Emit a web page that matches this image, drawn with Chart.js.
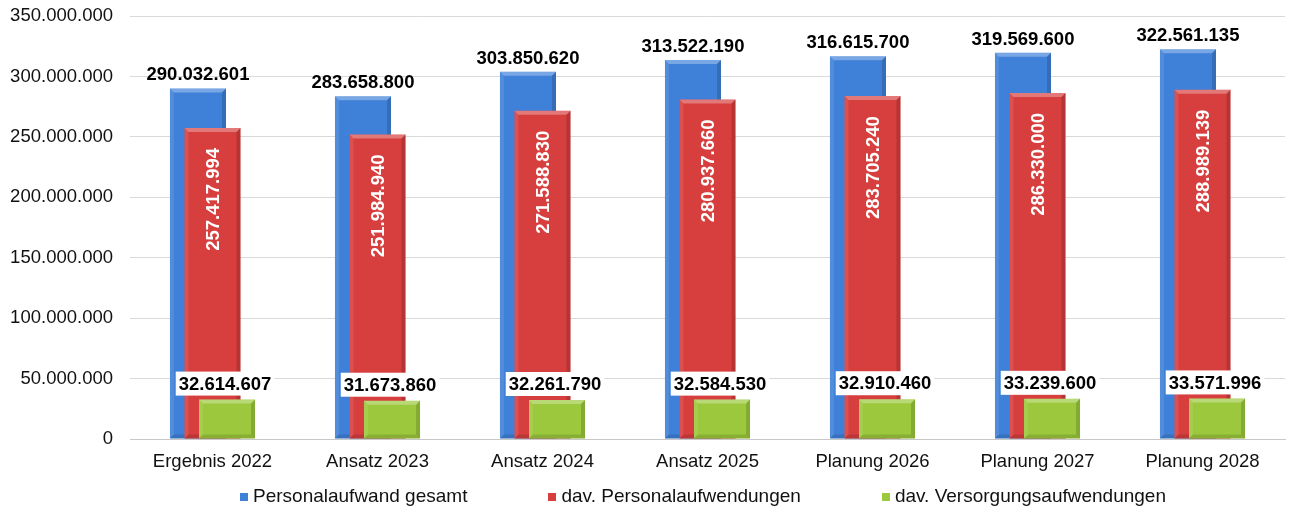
<!DOCTYPE html>
<html>
<head>
<meta charset="utf-8">
<script src="https://cdn.jsdelivr.net/npm/chart.js@4/dist/chart.umd.min.js"></script>
<style>
  body { margin: 0; background: #fff; }
  #wrap { position: relative; width: 1289px; height: 512px; }
  #legend { position: absolute; left: 240px; top: 485px; display: flex; font-family: "Liberation Sans", Arial, sans-serif; font-size: 19px; color: #111; }
  #legend .item { display: flex; align-items: center; margin-right: 81px; }
  #legend .box { width: 8px; height: 8px; margin-right: 5px; margin-top: 2px; }
</style>
</head>
<body>
<div id="wrap">
  <canvas id="chart"></canvas>
  <div id="legend"></div>
</div>
<script>
var categories = ['Ergebnis 2022', 'Ansatz 2023', 'Ansatz 2024', 'Ansatz 2025', 'Planung 2026', 'Planung 2027', 'Planung 2028'];
var seriesNames = ['Personalaufwand gesamt', 'dav. Personalaufwendungen', 'dav. Versorgungsaufwendungen'];
var gesamt = [290032601, 283658800, 303850620, 313522190, 316615700, 319569600, 322561135];
var personal = [257417994, 251984940, 271588830, 280937660, 283705240, 286330000, 288989139];
var versorgung = [32614607, 31673860, 32261790, 32584530, 32910460, 33239600, 33571996];
var yTicks = [0, 50000000, 100000000, 150000000, 200000000, 250000000, 300000000, 350000000];

var colors = ['#3F80D8', '#D73E3E', '#9BC83C'];
var FONT = '"Liberation Sans", Arial, sans-serif';

function fmt(v) {
    return String(v).replace(/\B(?=(\d{3})+(?!\d))/g, '.');
}

// legend
var legend = document.getElementById('legend');
seriesNames.forEach(function (name, i) {
    var item = document.createElement('div');
    item.className = 'item';
    item.innerHTML = '<span class="box" style="background:' + colors[i] + '"></span><span>' + name + '</span>';
    legend.appendChild(item);
});

function bevel(ctx, el) {
    var p = el.getProps(['x', 'y', 'base', 'width'], true);
    var l = p.x - p.width / 2, r = p.x + p.width / 2, t = p.y, b = p.base, e = 4;
    ctx.save();
    ctx.fillStyle = 'rgba(255,255,255,0.3)';
    ctx.beginPath();
    ctx.moveTo(l, t); ctx.lineTo(r, t); ctx.lineTo(r - e, t + e); ctx.lineTo(l + e, t + e);
    ctx.fill();
    ctx.fillStyle = 'rgba(255,255,255,0.1)';
    ctx.beginPath();
    ctx.moveTo(l, t); ctx.lineTo(l + e, t + e); ctx.lineTo(l + e, b - e); ctx.lineTo(l, b);
    ctx.fill();
    ctx.fillStyle = 'rgba(0,0,0,0.15)';
    ctx.beginPath();
    ctx.moveTo(r, t); ctx.lineTo(r - e, t + e); ctx.lineTo(r - e, b - e); ctx.lineTo(r, b);
    ctx.fill();
    ctx.fillStyle = 'rgba(0,0,0,0.12)';
    ctx.beginPath();
    ctx.moveTo(l, b); ctx.lineTo(l + e, b - e); ctx.lineTo(r - e, b - e); ctx.lineTo(r, b);
    ctx.fill();
    ctx.restore();
}

// draw blue first, green last so that the right bars lie on top
var drawOrder = {
    id: 'drawOrder',
    beforeDatasetsDraw: function (chart) {
        var ctx = chart.ctx;
        chart.getSortedVisibleDatasetMetas().forEach(function (meta) {
            meta.controller.draw();
            meta.data.forEach(function (el) { bevel(ctx, el); });
        });
        return false;
    }
};

var valueLabels = {
    id: 'valueLabels',
    afterDraw: function (chart) {
        var ctx = chart.ctx;
        ctx.save();
        ctx.font = 'bold 18.5px ' + FONT;
        // gesamt above the bar
        chart.getDatasetMeta(0).data.forEach(function (el, i) {
            ctx.fillStyle = '#000';
            ctx.textAlign = 'center';
            ctx.textBaseline = 'alphabetic';
            ctx.fillText(fmt(gesamt[i]), el.x, el.y - 8);
        });
        // personal rotated inside the bar
        chart.getDatasetMeta(1).data.forEach(function (el, i) {
            ctx.save();
            ctx.translate(el.x + 1, el.y + 20);
            ctx.rotate(-Math.PI / 2);
            ctx.fillStyle = '#fff';
            ctx.textAlign = 'right';
            ctx.textBaseline = 'middle';
            ctx.fillText(fmt(personal[i]), 0, 0);
            ctx.restore();
        });
        // versorgung in a white box above the bar
        chart.getDatasetMeta(2).data.forEach(function (el, i) {
            var txt = fmt(versorgung[i]);
            var w = ctx.measureText(txt).width;
            ctx.fillStyle = '#fff';
            ctx.fillRect(el.x - w / 2 - 5, el.y - 28, w + 6, 24);
            ctx.fillStyle = '#000';
            ctx.textAlign = 'center';
            ctx.textBaseline = 'middle';
            ctx.fillText(txt, el.x - 2, el.y - 15);
        });
        ctx.restore();
    }
};

var chart = new Chart(document.getElementById('chart'), {
    type: 'bar',
    data: {
        labels: categories,
        datasets: [
            { label: seriesNames[0], data: gesamt, backgroundColor: colors[0] },
            { label: seriesNames[1], data: personal, backgroundColor: colors[1] },
            { label: seriesNames[2], data: versorgung, backgroundColor: colors[2] }
        ]
    },
    options: {
        responsive: true,
        maintainAspectRatio: false,
        animation: false,
        categoryPercentage: 0.264,
        barPercentage: 3.86,
        layout: { padding: { top: 16, right: 4, left: 0, bottom: 0 } },
        plugins: {
            legend: { display: false },
            tooltip: { enabled: false }
        },
        scales: {
            x: {
                grid: { display: false, drawTicks: false },
                border: { display: true, color: '#c8c8c8' },
                ticks: { color: '#111', padding: 12, font: { family: FONT, size: 18.5 } },
                afterFit: function (s) { s.height = 73; }
            },
            y: {
                min: 0,
                max: 350000000,
                afterBuildTicks: function (s) { s.ticks = yTicks.map(function (v) { return { value: v }; }); },
                afterFit: function (s) { s.width = 130; },
                grid: { color: '#d9d9d9', drawTicks: true, tickLength: 17, tickColor: 'rgba(0,0,0,0)' },
                border: { display: false },
                ticks: {
                    color: '#111',
                    padding: 0,
                    font: { family: FONT, size: 18.5 },
                    callback: function (value) { return fmt(value); }
                }
            }
        }
    },
    plugins: [drawOrder, valueLabels]
});
</script>
</body>
</html>
